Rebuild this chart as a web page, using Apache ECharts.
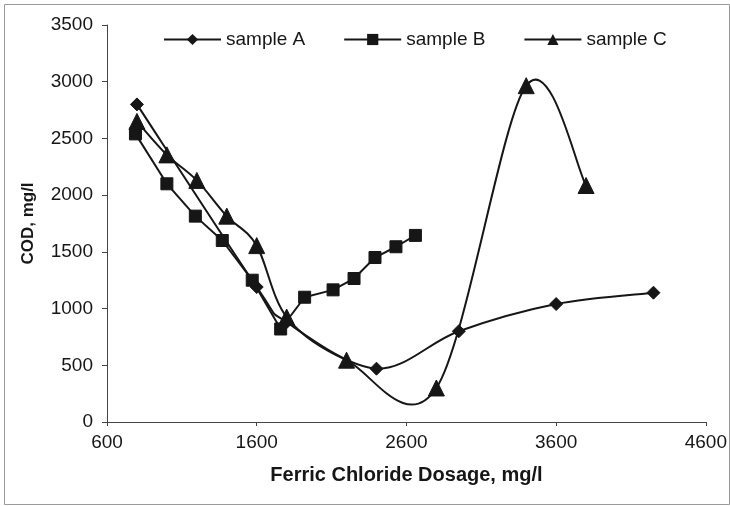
<!DOCTYPE html>
<html>
<head>
<meta charset="utf-8">
<script src="https://cdn.jsdelivr.net/npm/echarts@6/dist/echarts.min.js"></script>
<style>
html,body{margin:0;padding:0;background:#fff;}
#chart{width:730px;height:506px;}
</style>
</head>
<body>
<div id="chart"></div>
<script>
// Data
var seriesNames = ['sample A', 'sample B', 'sample C'];
var sampleA = [[800, 2800], [1600, 1190], [1800, 880], [2400, 470], [2950, 800], [3600, 1040], [4250, 1140]];
var sampleB = [[790, 2540], [1000, 2100], [1190, 1815], [1370, 1600], [1570, 1250], [1760, 820], [1920, 1100], [2110, 1165], [2250, 1265], [2390, 1450], [2530, 1545], [2660, 1645]];
var sampleC = [[800, 2650], [1000, 2355], [1200, 2130], [1400, 1815], [1600, 1555], [1800, 925], [2200, 545], [2800, 300], [3400, 2965], [3800, 2085]];
var xTicks = [600, 1600, 2600, 3600, 4600];
var yTicks = [0, 500, 1000, 1500, 2000, 2500, 3000, 3500];

var chart = echarts.init(document.getElementById('chart'));
var ink = '#161616';
var font = 'Liberation Sans, Arial, sans-serif';

// Excel-like smoothed connector (Catmull-Rom bezier) computed in pixel space via api.coord
function smoothRenderer(data, smooth) {
  return function (params, api) {
    var i = params.dataIndex;
    if (i === 0) return null;
    var P = function (k) {
      k = Math.max(0, Math.min(data.length - 1, k));
      return api.coord(data[k]);
    };
    var p0 = P(i - 2), p1 = P(i - 1), p2 = P(i), p3 = P(i + 1);
    var f = smooth ? 1 / 6 : 0;
    var c1 = [p1[0] + (p2[0] - p0[0]) * f, p1[1] + (p2[1] - p0[1]) * f];
    var c2 = [p2[0] - (p3[0] - p1[0]) * f, p2[1] - (p3[1] - p1[1]) * f];
    return {
      type: 'bezierCurve',
      shape: {x1: p1[0], y1: p1[1], x2: p2[0], y2: p2[1], cpx1: c1[0], cpy1: c1[1], cpx2: c2[0], cpy2: c2[1]},
      style: {stroke: ink, lineWidth: 2, fill: null}
    };
  };
}

function markerSeries(name, data, symbol, size) {
  return {
    name: name, type: 'line', data: data, z: 3,
    symbol: symbol, symbolSize: size,
    lineStyle: {color: ink, width: 2, opacity: 0},
    itemStyle: {color: ink, borderColor: ink},
    emphasis: {disabled: true}, silent: true
  };
}
function curveSeries(id, data, smooth) {
  return {
    id: id, type: 'custom', data: data, z: 2, silent: true,
    encode: {x: 0, y: 1},
    renderItem: smoothRenderer(data, smooth)
  };
}

chart.setOption({
  animation: false,
  backgroundColor: '#fff',
  graphic: [{
    type: 'rect', left: 2, top: 2,
    shape: {width: 725, height: 500},
    style: {fill: 'none', stroke: '#9a9a9a', lineWidth: 1}
  }],
  grid: {left: 107, right: 21, top: 25, bottom: 84, containLabel: false},
  legend: {
    top: 25, left: 158,
    itemWidth: 57, itemHeight: 14, itemGap: 38,
    lineStyle: {color: ink, width: 2, opacity: 1},
    textStyle: {color: ink, fontSize: 19, fontFamily: font},
    data: seriesNames
  },
  xAxis: {
    type: 'value', min: xTicks[0], max: xTicks[xTicks.length - 1], interval: 1000,
    name: 'Ferric Chloride Dosage, mg/l', nameLocation: 'middle', nameGap: 43,
    nameTextStyle: {color: ink, fontSize: 20, fontWeight: 'bold', fontFamily: font},
    axisLine: {lineStyle: {color: '#444', width: 1}},
    axisTick: {show: true, inside: false, length: 4, lineStyle: {color: '#444'}},
    axisLabel: {color: ink, fontSize: 19, fontFamily: font, margin: 11, formatter: function (v) { return String(v); }},
    splitLine: {show: false}
  },
  yAxis: {
    type: 'value', min: yTicks[0], max: yTicks[yTicks.length - 1], interval: 500,
    name: 'COD, mg/l', nameLocation: 'middle', nameGap: 70, nameRotate: 90,
    nameTextStyle: {color: ink, fontSize: 17, fontWeight: 'bold', fontFamily: font},
    axisLine: {show: true, lineStyle: {color: '#444', width: 1}},
    axisTick: {show: true, inside: false, length: 5, lineStyle: {color: '#444'}},
    axisLabel: {color: ink, fontSize: 19, fontFamily: font, margin: 14, formatter: function (v) { return String(v); }},
    splitLine: {show: false}
  },
  series: [
    markerSeries(seriesNames[0], sampleA, 'diamond', 13),
    markerSeries(seriesNames[1], sampleB, 'rect', 12),
    markerSeries(seriesNames[2], sampleC, 'triangle', 16),
    curveSeries('curveA', sampleA, true),
    curveSeries('curveB', sampleB, false),
    curveSeries('curveC', sampleC, true)
  ]
});
</script>
</body>
</html>
